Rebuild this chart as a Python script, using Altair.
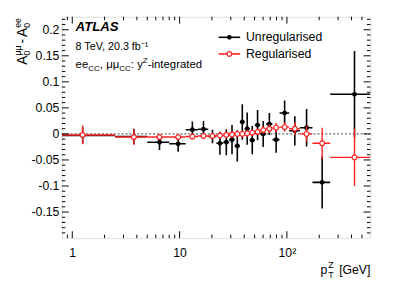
import altair as alt
import pandas as pd

# ---------------- data ----------------
edges = [0, 2.5, 5, 8, 11.4, 14.9, 18.5, 22, 25.5, 29, 32.6, 36.4, 40.4,
         44.9, 50.2, 56.4, 63.9, 73.4, 85.4, 105, 132, 173, 253, 600]
unreg = [-0.003, -0.005, -0.016, -0.019, 0.008, 0.009, -0.005, -0.018,
         -0.016, -0.011, -0.023, 0.023, 0.010, -0.012, 0.017, 0.000,
         0.019, -0.011, 0.040, 0.006, 0.012, -0.093, 0.076]
unreg_err = [0.016, 0.015, 0.015, 0.015, 0.016, 0.016, 0.013, 0.022,
             0.025, 0.028, 0.030, 0.034, 0.031, 0.027, 0.029, 0.025,
             0.021, 0.025, 0.024, 0.028, 0.036, 0.050, 0.083]
reg = [-0.002, -0.006, -0.006, -0.006, -0.005, -0.004, -0.004, -0.003,
       -0.002, -0.001, 0.000, 0.000, 0.001, 0.0025, 0.004, 0.0075,
       0.010, 0.012, 0.013, 0.010, 0.000, -0.018, -0.045]
reg_err = [0.018, 0.015, 0.005, 0.005, 0.005, 0.006, 0.006, 0.006,
           0.006, 0.006, 0.006, 0.006, 0.006, 0.006, 0.006, 0.007,
           0.008, 0.009, 0.009, 0.012, 0.015, 0.030, 0.055]

y_major = [-0.15, -0.1, -0.05, 0, 0.05, 0.1, 0.15, 0.2]
x_major = [1, 10, 100]
x_minor = [0.9, 2, 3, 4, 5, 6, 7, 8, 9, 20, 30, 40, 50, 60, 70, 80, 90,
           200, 300, 400, 500]

# ---------------- layout / style ----------------
XMIN, XMAX = 0.8, 600
YMIN, YMAX = -0.2, 0.225
W, H = 315, 226
FONT = "Liberation Sans"
RED = "#ff2020"
OX, OY = 63, 14  # plot origin on the page

xs = alt.Scale(type="log", domain=[XMIN, XMAX], nice=False)
ys = alt.Scale(domain=[YMIN, YMAX], nice=False, zero=False)

lo = [max(e, XMIN) for e in edges[:-1]]
hi = edges[1:]
ctr = [(a + b) / 2 for a, b in zip(edges[:-1], edges[1:])]
df = pd.DataFrame({"lo": lo, "hi": hi, "c": ctr,
                   "u": unreg, "ue": unreg_err, "r": reg, "re": reg_err})
df["u_lo"] = df.u - df.ue
df["u_hi"] = df.u + df.ue
df["r_lo"] = df.r - df.re
df["r_hi"] = df.r + df.re

y_minor = []
for i in range(42):
    v = round(-0.19 + 0.01 * i, 2)
    if all(abs(v - m) > 1e-9 for m in y_major):
        y_minor.append(v)

XA = alt.Axis(values=x_major, title=None, ticks=False, tickSize=0,
              domain=False, grid=False, labelFontSize=12.5, labelFont=FONT,
              labelColor="black", labelPadding=9,
              labelExpr="datum.value == 100 ? '10\u00b2' : '' + datum.value")
YA = alt.Axis(values=y_major, title=None, ticks=False, tickSize=0,
              domain=False, grid=False, labelFontSize=12.5, labelFont=FONT,
              labelColor="black", labelPadding=3,
              labelExpr="'' + datum.value")


def X(f):
    return alt.X(f, scale=xs, axis=XA)


def Y(f):
    return alt.Y(f, scale=ys, axis=YA)


base = alt.Chart(df)

zero = alt.Chart(pd.DataFrame({"z": [0]})).mark_rule(
    color="#666666", strokeDash=[2, 2], strokeWidth=1.2).encode(y=Y("z:Q"))

b_v = base.mark_rule(color="black", strokeWidth=1.6, clip=True).encode(
    x=X("c:Q"), y=Y("u_lo:Q"), y2="u_hi:Q")
b_h = base.mark_rule(color="black", strokeWidth=1.6, clip=True).encode(
    x=X("lo:Q"), x2="hi:Q", y=Y("u:Q"))
b_p = base.mark_point(shape="circle", filled=True, color="black", size=24,
                      opacity=1).encode(x=X("c:Q"), y=Y("u:Q"))

r_v = base.mark_rule(color=RED, strokeWidth=1.4, clip=True).encode(
    x=X("c:Q"), y=Y("r_lo:Q"), y2="r_hi:Q")
r_h = base.mark_rule(color=RED, strokeWidth=1.4, clip=True).encode(
    x=X("lo:Q"), x2="hi:Q", y=Y("r:Q"))
r_p = base.mark_point(shape="circle", fill="white", stroke=RED,
                      strokeWidth=1.2, size=24, opacity=1).encode(
    x=X("c:Q"), y=Y("r:Q"))

layers = [zero, b_v, b_h, b_p, r_v, r_h, r_p]


def yticks(vals, L):
    c = alt.Chart(pd.DataFrame({"v": vals}))
    left = c.mark_rule(color="black", strokeWidth=1).encode(
        y=Y("v:Q"), x=alt.value(0), x2=alt.value(L))
    right = c.mark_rule(color="black", strokeWidth=1).encode(
        y=Y("v:Q"), x=alt.value(W), x2=alt.value(W - L))
    return [left, right]


def xticks(vals, L):
    c = alt.Chart(pd.DataFrame({"v": vals}))
    bot = c.mark_rule(color="black", strokeWidth=1).encode(
        x=X("v:Q"), y=alt.value(H), y2=alt.value(H - L))
    top = c.mark_rule(color="black", strokeWidth=1).encode(
        x=X("v:Q"), y=alt.value(0), y2=alt.value(L))
    return [bot, top]


layers += yticks(y_major, 7) + yticks(y_minor, 3.5)
layers += xticks(x_major, 7) + xticks(x_minor, 3.5)


def txt(s, sx, sy, size, align="left", baseline="alphabetic", **kw):
    return alt.Chart(pd.DataFrame({"t": [s]})).mark_text(
        align=align, baseline=baseline, fontSize=size, font=FONT,
        color="black", **kw).encode(
        text="t:N", x=alt.value(sx - OX), y=alt.value(sy - OY))


# Arial / Liberation Sans advance widths (per 1000 em)
AW = {" ": 278, ",": 278, ":": 278, "-": 333, ".": 278, "a": 556, "b": 556,
      "c": 500, "d": 556, "e": 556, "f": 278, "g": 556, "i": 222, "l": 222,
      "n": 556, "r": 333, "s": 500, "t": 278, "u": 556, "y": 500, "C": 722,
      "Z": 611, "T": 611, "V": 667, "A": 667, "\u03bc": 576, "0": 556,
      "[": 278, "]": 278, "G": 778, "p": 556}


def tw(s, size):
    return sum(AW.get(ch, 556) for ch in s) * size / 1000.0


# ATLAS label block
layers.append(txt("ATLAS", 77, 29, 13.5, fontWeight="bold", fontStyle="italic"))
layers.append(txt("8 TeV, 20.3 fb\u207b\u00b9", 77, 48, 11))

F3, S3 = 11.6, 8.2
x = 77.0
y3 = 66
pieces3 = [("ee", 0, F3), ("CC", 3, S3), (", \u03bc\u03bc", 0, F3), ("CC", 3, S3),
           (": y", 0, F3), ("Z", -4.5, S3), ("-integrated", 0, F3)]
for s, dy, f in pieces3:
    layers.append(txt(s, x, y3 + dy, f))
    x += tw(s, f)

# legend
leg = pd.DataFrame({"d": [0]})
for (yy, col, filled) in [(35, "black", True), (52, RED, False)]:
    layers.append(alt.Chart(leg).mark_rule(color=col, strokeWidth=1.6).encode(
        x=alt.value(223 - OX), x2=alt.value(245 - OX), y=alt.value(yy - OY)))
    if filled:
        layers.append(alt.Chart(leg).mark_point(
            shape="circle", filled=True, color="black", size=24, opacity=1).encode(
            x=alt.value(234 - OX), y=alt.value(yy - OY)))
    else:
        layers.append(alt.Chart(leg).mark_point(
            shape="circle", fill="white", stroke=RED, strokeWidth=1.2, size=24,
            opacity=1).encode(x=alt.value(234 - OX), y=alt.value(yy - OY)))
layers.append(txt("Unregularised", 251, 35, 12.5, baseline="middle"))
layers.append(txt("Regularised", 251, 52, 12.5, baseline="middle"))

# y-axis title: A_0^{mumu} - A_0^{ee}, rotated
FT, FS = 14, 9
BX = 27.5
yy = 63.0
layers.append(txt("A", BX, yy, FT, angle=270))
yy -= tw("A", FT)
layers.append(txt("0", BX + 2.5, yy, FS, angle=270))
layers.append(txt("\u03bc\u03bc", BX - 6.5, yy, FS, angle=270))
yy -= tw("\u03bc\u03bc", FS) + 2
layers.append(txt("-", BX, yy, FT, angle=270))
yy -= tw("-", FT) + 2
layers.append(txt("A", BX, yy, FT, angle=270))
yy -= tw("A", FT)
layers.append(txt("0", BX + 2.5, yy, FS, angle=270))
layers.append(txt("ee", BX - 6.5, yy, FS, angle=270))

# x-axis title: p_T^Z [GeV]
FX = 12.5
layers.append(txt("[GeV]", 378, 277, FX, align="right"))
layers.append(txt("Z", 335, 271, FS))
layers.append(txt("T", 335, 281, FS))
layers.append(txt("p", 334, 277, FX, align="right"))

chart = alt.layer(*layers).properties(
    width=W, height=H,
    padding={"left": OX - 8, "top": OY - 8, "right": 20, "bottom": 46},
    autosize=alt.AutoSizeParams(type="none"),
).configure_view(stroke="black", strokeWidth=1).configure(font=FONT)

chart.save("out.html", embed_options={"renderer": "svg", "actions": False})
